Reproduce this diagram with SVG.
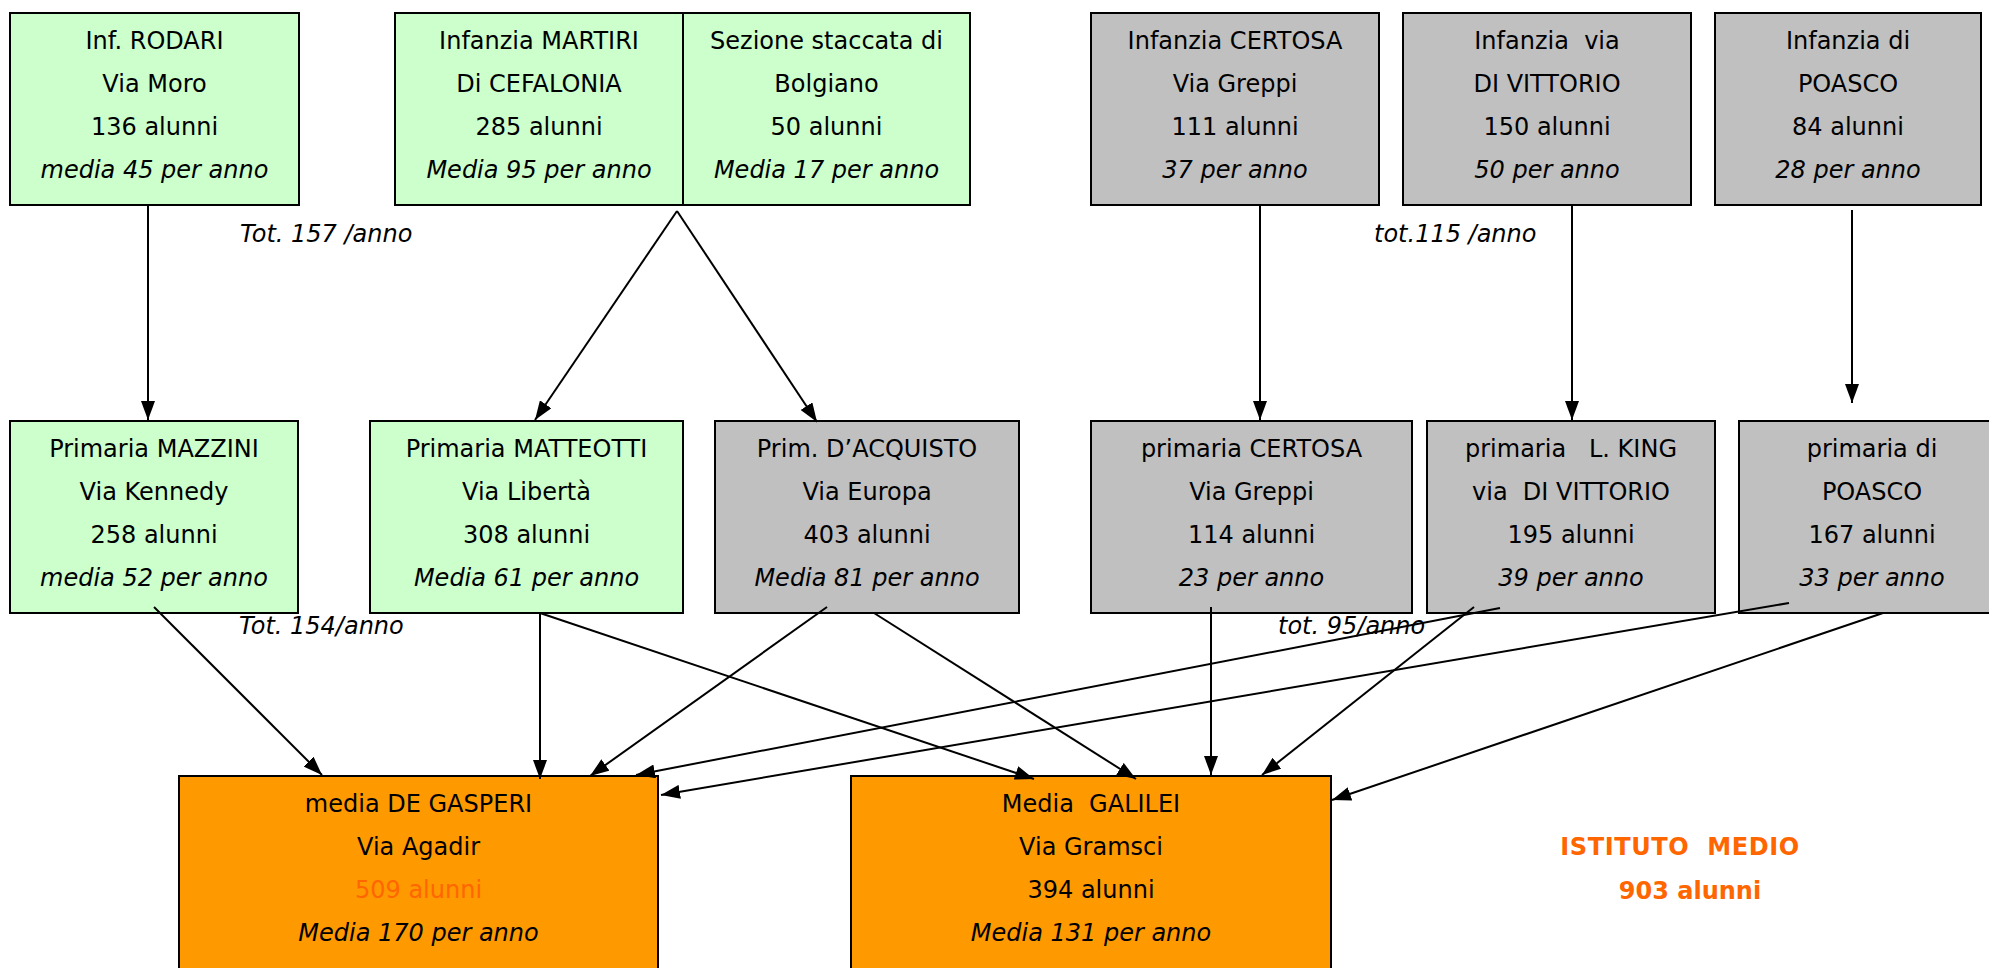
<svg xmlns="http://www.w3.org/2000/svg" width="1989" height="968" viewBox="0 0 1989 968">
<defs>
<style>
rect.g{fill:#CCFFCC;stroke:#000;stroke-width:2}
rect.s{fill:#C0C0C0;stroke:#000;stroke-width:2}
rect.o{fill:#FF9900;stroke:#000;stroke-width:2}
text{font-family:"DejaVu Sans",Verdana,sans-serif;font-size:24px;fill:#000;text-anchor:middle}
text.i{font-style:italic}
text.l{text-anchor:start;font-style:italic}
text.h{fill:#FF6600}
text.b{font-weight:bold;font-size:24px;fill:#FF6600}
#connectors line{stroke:#000;stroke-width:2;fill:none;marker-end:url(#ah)}
</style>
<marker id="ah" markerUnits="userSpaceOnUse" markerWidth="20" markerHeight="14" refX="19" refY="7" orient="auto"><path d="M0,0 L19,7 L0,14 z" fill="#000"/></marker>
</defs>
<rect width="1989" height="968" fill="#fff"/>

<g id="rodari"><rect class="g" x="10" y="13" width="289" height="192"/>
<text x="154.5" y="49">Inf. RODARI</text><text x="154.5" y="92">Via Moro</text><text x="154.5" y="135">136 alunni</text><text class="i" x="154.5" y="178">media 45 per anno</text></g>

<g id="martiri"><rect class="g" x="395" y="13" width="288" height="192"/>
<text x="539" y="49">Infanzia MARTIRI</text><text x="539" y="92">Di CEFALONIA</text><text x="539" y="135">285 alunni</text><text class="i" x="539" y="178">Media 95 per anno</text></g>

<g id="sezione"><rect class="g" x="683" y="13" width="287" height="192"/>
<text x="826.5" y="49">Sezione staccata di</text><text x="826.5" y="92">Bolgiano</text><text x="826.5" y="135">50 alunni</text><text class="i" x="826.5" y="178">Media 17 per anno</text></g>

<g id="inf-certosa"><rect class="s" x="1091" y="13" width="288" height="192"/>
<text x="1235" y="49">Infanzia CERTOSA</text><text x="1235" y="92">Via Greppi</text><text x="1235" y="135">111 alunni</text><text class="i" x="1235" y="178">37 per anno</text></g>

<g id="inf-divittorio"><rect class="s" x="1403" y="13" width="288" height="192"/>
<text x="1547" y="49" xml:space="preserve">Infanzia  via</text><text x="1547" y="92">DI VITTORIO</text><text x="1547" y="135">150 alunni</text><text class="i" x="1547" y="178">50 per anno</text></g>

<g id="inf-poasco"><rect class="s" x="1715" y="13" width="266" height="192"/>
<text x="1848" y="49">Infanzia di</text><text x="1848" y="92">POASCO</text><text x="1848" y="135">84 alunni</text><text class="i" x="1848" y="178">28 per anno</text></g>

<g id="mazzini"><rect class="g" x="10" y="421" width="288" height="192"/>
<text x="154" y="457">Primaria MAZZINI</text><text x="154" y="500">Via Kennedy</text><text x="154" y="543">258 alunni</text><text class="i" x="154" y="586">media 52 per anno</text></g>

<g id="matteotti"><rect class="g" x="370" y="421" width="313" height="192"/>
<text x="526.5" y="457">Primaria MATTEOTTI</text><text x="526.5" y="500">Via Libertà</text><text x="526.5" y="543">308 alunni</text><text class="i" x="526.5" y="586">Media 61 per anno</text></g>

<g id="dacquisto"><rect class="s" x="715" y="421" width="304" height="192"/>
<text x="867" y="457">Prim. D’ACQUISTO</text><text x="867" y="500">Via Europa</text><text x="867" y="543">403 alunni</text><text class="i" x="867" y="586">Media 81 per anno</text></g>

<g id="pri-certosa"><rect class="s" x="1091" y="421" width="321" height="192"/>
<text x="1251.5" y="457">primaria CERTOSA</text><text x="1251.5" y="500">Via Greppi</text><text x="1251.5" y="543">114 alunni</text><text class="i" x="1251.5" y="586">23 per anno</text></g>

<g id="pri-king"><rect class="s" x="1427" y="421" width="288" height="192"/>
<text x="1571" y="457" xml:space="preserve">primaria   L. KING</text><text x="1571" y="500" xml:space="preserve">via  DI VITTORIO</text><text x="1571" y="543">195 alunni</text><text class="i" x="1571" y="586">39 per anno</text></g>

<g id="pri-poasco"><rect class="s" x="1739" y="421" width="266" height="192"/>
<text x="1872" y="457">primaria di</text><text x="1872" y="500">POASCO</text><text x="1872" y="543">167 alunni</text><text class="i" x="1872" y="586">33 per anno</text></g>

<g id="degasperi"><rect class="o" x="179" y="776" width="479" height="196"/>
<text x="418.5" y="812">media DE GASPERI</text><text x="418.5" y="855">Via Agadir</text><text class="h" x="418.5" y="898">509 alunni</text><text class="i" x="418.5" y="941">Media 170 per anno</text></g>

<g id="galilei"><rect class="o" x="851" y="776" width="480" height="196"/>
<text x="1091" y="812" xml:space="preserve">Media  GALILEI</text><text x="1091" y="855">Via Gramsci</text><text x="1091" y="898">394 alunni</text><text class="i" x="1091" y="941">Media 131 per anno</text></g>

<g id="istituto">
<text class="b" x="1680" y="855" letter-spacing="0.6" xml:space="preserve">ISTITUTO  MEDIO</text>
<text class="b" x="1690" y="899">903 alunni</text>
</g>

<g id="labels">
<text class="l" x="240" y="242">Tot. 157 /anno</text>
<text class="l" x="1374" y="242">tot.115 /anno</text>
<text class="l" x="239" y="634">Tot. 154/anno</text>
<text class="l" x="1278" y="634">tot. 95/anno</text>
</g>

<g id="connectors">
<line x1="148" y1="205" x2="148" y2="420"/>
<line x1="677" y1="211" x2="535" y2="420"/>
<line x1="677" y1="211" x2="817" y2="422"/>
<line x1="1260" y1="205" x2="1260" y2="420"/>
<line x1="1572" y1="205" x2="1572" y2="420"/>
<line x1="1852" y1="210" x2="1852" y2="403"/>
<line x1="154" y1="607" x2="322" y2="775"/>
<line x1="540" y1="613" x2="540" y2="779"/>
<line x1="540" y1="613" x2="1034" y2="779"/>
<line x1="827" y1="607" x2="590" y2="776"/>
<line x1="874" y1="613" x2="1136" y2="779"/>
<line x1="1211" y1="607" x2="1211" y2="775"/>
<line x1="1474" y1="607" x2="1262" y2="775"/>
<line x1="1500" y1="608" x2="636" y2="775"/>
<line x1="1789" y1="603" x2="661" y2="795"/>
<line x1="1883" y1="613" x2="1332" y2="800"/>
</g>
</svg>
